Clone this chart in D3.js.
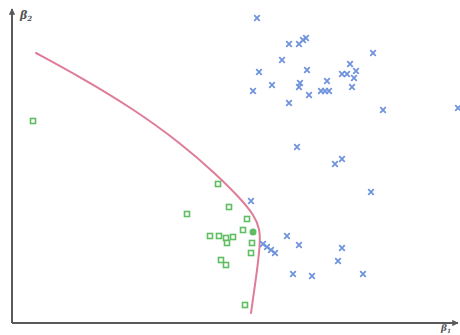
<!DOCTYPE html>
<html>
<head>
<meta charset="utf-8">
<script src="https://cdn.jsdelivr.net/npm/d3@7"></script>
<style>
  html, body { margin: 0; padding: 0; background: #fff; }
  svg { display: block; }
</style>
</head>
<body>
<svg id="chart" width="460" height="335"></svg>
<script>
// Class A (green squares): beta1 values and beta2 values
const classAX = [0.21, 2.06, 2.17, 1.75, 2.35, 2.31, 1.98, 2.07, 2.14, 2.21, 2.15, 2.40, 2.39, 2.09, 2.14, 2.33];
const classAY = [2.02, 1.39, 1.16, 1.09, 1.04, 0.93, 0.87, 0.87, 0.85, 0.86, 0.80, 0.80, 0.70, 0.63, 0.58, 0.18];
// Class A point lying on the boundary (filled)
const boundaryAX = [2.41];
const boundaryAY = [0.91];

// Class B (blue crosses)
const classBX = [2.45, 2.77, 2.87, 2.91, 2.94, 2.70, 2.47, 2.95, 3.38, 3.61, 3.30, 3.35, 3.44, 3.42,
                 2.60, 2.88, 2.87, 3.15, 2.41, 2.97, 3.09, 3.13, 3.17, 3.40, 2.77, 3.71, 4.46,
                 2.85, 3.23, 3.30, 3.59, 2.39, 2.75, 2.87, 3.30, 3.26, 2.81, 3.00, 3.51,
                 2.51, 2.55, 2.59, 2.63];
const classBY = [3.05, 2.79, 2.79, 2.83, 2.85, 2.63, 2.51, 2.53, 2.59, 2.70, 2.49, 2.49, 2.52, 2.45,
                 2.38, 2.40, 2.36, 2.42, 2.32, 2.28, 2.32, 2.32, 2.32, 2.36, 2.20, 2.13, 2.15,
                 1.76, 1.59, 1.64, 1.31, 1.22, 0.87, 0.78, 0.75, 0.62, 0.49, 0.47, 0.49,
                 0.79, 0.76, 0.73, 0.70];

// Decision boundary
const boundaryX = [0.24, 0.70, 1.20, 1.70, 2.05, 2.28, 2.42, 2.48, 2.48, 2.45, 2.41, 2.39];
const boundaryY = [2.70, 2.45, 2.15, 1.79, 1.48, 1.25, 1.08, 0.94, 0.78, 0.52, 0.24, 0.10];

const axisLabels = ["\u03b2", "\u03b2"];
const axisSubs = ["1", "2"];

const svg = d3.select("#chart");
const x = d3.scaleLinear().domain([0, 4.46]).range([12, 458]);
const y = d3.scaleLinear().domain([0, 3.15]).range([323, 8]);

// Axes with arrowheads
const axisColor = "#5a5a5a";
const defs = svg.append("defs");
defs.append("marker")
  .attr("id", "arrow")
  .attr("viewBox", "0 0 10 10")
  .attr("refX", 9).attr("refY", 5)
  .attr("markerWidth", 3.2).attr("markerHeight", 3.2)
  .attr("orient", "auto")
  .append("path").attr("d", "M0,0 L10,5 L0,10 Z").attr("fill", axisColor);

svg.append("line")
  .attr("x1", x(0)).attr("y1", y(0)).attr("x2", x(4.46)).attr("y2", y(0))
  .attr("stroke", axisColor).attr("stroke-width", 2).attr("marker-end", "url(#arrow)");
svg.append("line")
  .attr("x1", x(0)).attr("y1", y(0)).attr("x2", x(0)).attr("y2", y(3.15) + 1)
  .attr("stroke", axisColor).attr("stroke-width", 2).attr("marker-end", "url(#arrow)");

// Axis labels
function axisLabel(px, py, i, fs) {
  const t = svg.append("text")
    .attr("x", px).attr("y", py)
    .attr("font-family", "DejaVu Serif, serif")
    .attr("font-style", "italic")
    .attr("font-weight", "bold")
    .attr("font-size", fs)
    .attr("fill", "#555");
  t.append("tspan").text(axisLabels[i]);
  t.append("tspan").attr("font-size", fs * 0.64).attr("dy", 2).text(axisSubs[i]);
}
axisLabel(20, 19, 1, 11);
axisLabel(441, 331, 0, 9);

// Boundary curve
const line = d3.line()
  .x(i => x(boundaryX[i]))
  .y(i => y(boundaryY[i]))
  .curve(d3.curveBasis);
svg.append("path")
  .attr("d", line(d3.range(boundaryX.length)))
  .attr("fill", "none")
  .attr("stroke", "#dc6e8c")
  .attr("stroke-width", 2)
  .attr("stroke-linecap", "round")
  .attr("opacity", 0.9);

// Class B crosses
const blue = "#6f93de";
const cross = d3.symbol().type(d3.symbolX).size(22);
svg.append("g").selectAll("path")
  .data(d3.range(classBX.length))
  .join("path")
  .attr("d", cross)
  .attr("transform", i => `translate(${x(classBX[i])},${y(classBY[i])})`)
  .attr("fill", "none")
  .attr("stroke", blue)
  .attr("stroke-width", 1.8);

// Class A squares
const green = "#5fbe62";
svg.append("g").selectAll("rect")
  .data(d3.range(classAX.length))
  .join("rect")
  .attr("x", i => x(classAX[i]) - 2.5)
  .attr("y", i => y(classAY[i]) - 2.5)
  .attr("width", 5).attr("height", 5)
  .attr("fill", "#fff")
  .attr("stroke", green)
  .attr("stroke-width", 1.6);

svg.append("g").selectAll("circle")
  .data(d3.range(boundaryAX.length))
  .join("circle")
  .attr("cx", i => x(boundaryAX[i]))
  .attr("cy", i => y(boundaryAY[i]))
  .attr("r", 3.5)
  .attr("fill", green);
</script>
</body>
</html>
